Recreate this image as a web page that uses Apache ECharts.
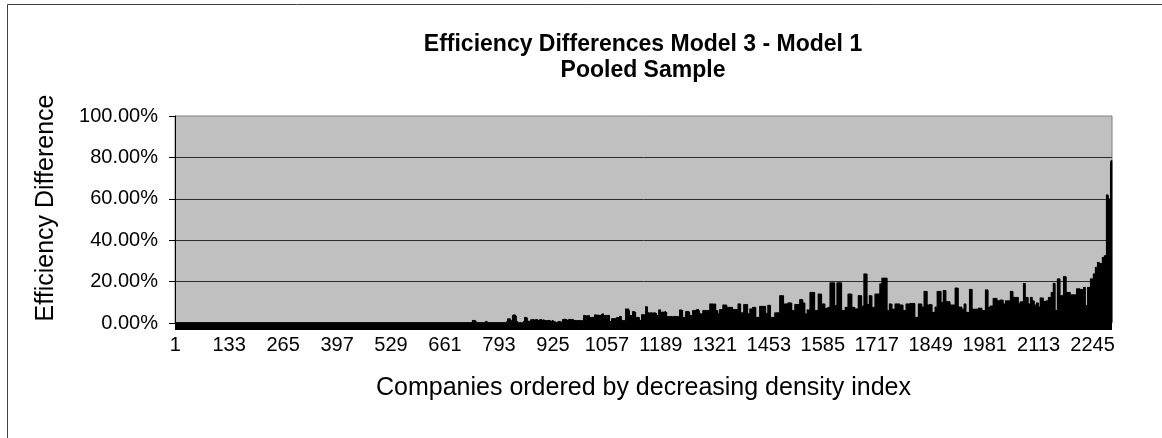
<!DOCTYPE html>
<html><head><meta charset="utf-8">
<script src="https://cdn.jsdelivr.net/npm/echarts@6/dist/echarts.min.js"></script>
<style>html,body{margin:0;padding:0;background:#fff}#c{width:1162px;height:438px}</style>
</head><body><div id="c"></div>
<script>
const titleLines = ['Efficiency Differences Model 3 - Model 1', 'Pooled Sample'];
const yAxisTitle = 'Efficiency Difference';
const xAxisTitle = 'Companies ordered by decreasing density index';
const yTickValues = [0, 20, 40, 60, 80, 100];
const xTickLabels = ['1','133','265','397','529','661','793','925','1057','1189','1321','1453','1585','1717','1849','1981','2113','2245'];
// efficiency difference per company, in percent
const effDiffPct = [
0,0,0,0,0,0,0,0,0,0,0,0,0,0,0,0,0,0,0,0,0,0,0,0,0,0,0,0,0,0,0,0,0,0,0,0,0,0,0,0,
0,0,0,0,0,0,0,0,0,0,0,0,0,0,0,0,0,0,0,0,0,0,0,0,0,0,0,0,0,0,0,0,0,0,0,0,0,0,0,0,
0,0,0,0,0,0,0,0,0,0,0,0,0,0,0,0,0,0,0,0,0,0,0,0,0,0,0,0,0,0,0,0,0,0,0,0,0,0,0,0,
0,0,0,0,0,0,0,0,0,0,0,0,0,0,0,0,0,0,0,0,0,0,0,0,0,0,0,0,0,0,0,0,0,0,0,0,0,0,0,0,
0,0,0,0,0,0,0,0,0,0,0,0,0,0,0,0,0,0,0,0,0,0,0,0,0,0,0,0,0,0,0,0,0,0,0,0,0,0,0,0,
0,0,0,0,0,0,0,0,0,0,0,0,0,0,0,0,0,0,0,0,0,0,0,0,0,0,0,0,0,0,0,0,0,0,0,0,0,0,0,0,
0,0,0,0,0,0,0,0,0,0,0,0,0,0,0,0,0,0,0,0,0,0,0,0,0,0,0,0,0,0,0,0,0,0,0,0,0,0,0,0,
0,0,0,0,0,0,0,0,0,0,0,0,0,0,0,0,0,0,0,0,0,0,0,0,0,0,0,0,0,0,0,0,0,0,0,0,0,0,0,0,
0,0,0,0,0,0,0,0,0,0,0,0,0,0,0,0,0,0,0,0,0,0,0,0,0,0,0,0,0,0,0,0,0,0,0,0,0,0,0,0,
0,0,0,0,0,0,0,0,0,0,0,0,0,0,0,0,0,0,0,0,0,0,0,0,0,0,0,0,0,0,0,0,0,0,0,0,0,0,0,0,
0,0,0,0,0,0,0,0,0,0,0,0,0,0,0,0,0,0,0,0,0,0,0,0,0,0,0,0,0,0,0,0,0,0,0,0,0,0,0,0,
0,0,0,0,0,0,0,0,0,0,0,0,0,0,0,0,0,0,0,0,0,0,0,0,0,0,0,0,0,0,0,0,0,0,0,0,0,0,0,0,
0,0,0,0,0,0,0,0,0,0,0,0,0,0,0,0,0,0,0,0,0,0,0,0,0,0,0,0,0,0,0,0,0,0,0,0,0,0,0,0,
0,0,0,0,0,0,0,0,0,0,0,0,0,0,0,0,0,0,0,0,0,0,0,0,0,0,0,0,0,0,0,0,0,0,0,0,0,0,0,0,
0,0,0,0,0,0,0,0,0,0,0,0,0,0,0,0,0,0,0,0,0,0,0,0,0,0,0,0,0,0,0,0,0,0,0,0,0,0,0,0,
0,0,0,0,0,0,0,0,0,0,0,0,0,0,0,0,0,0,0,0,0,0,0,0,0,0,0,0,0,0,0,0,0,0,0,0,0,0,0,0,
0,0,0,0,0,0,0,0,0,0,0,0,0,0,0,0,0,0,0,0,0,0,0,0,0,0,0,0,0,0,0,0,0,0,0,0,0,0,0,0,
0,0,0,0,0,0,0,0,0,0,0,0,0,0,0,0,0,0,0,0,0,0,0,0,0,0,0,0,0,0,0,0,0,0,0,0,0,0,0,0,
0,0,0,0,0,0.2,0.3,1.4,1.5,1.3,1.5,1.4,1.5,1.2,1.4,1.2,0.9,0.4,0.2,0.1,0,0,0,0,
0,0,0,0,0,0,0,0,0,0,0,0,0.1,0.4,0.6,0.9,1,1.1,1,0.8,0.3,0.2,0.1,0,0,
0,0,0,0,0,0,0,0,0,0,0.2,0.1,0,0,0,0,0,0,0,0,0.3,0.2,0,0,
0,0,0,0,0,0,0,0,0.2,0.1,0,0,0,0,0,0.3,0.5,0.4,0.9,1,2.1,2.3,2.2,2.3,2,
2.2,2.3,1.6,1.4,1.5,0.6,0.4,3.8,4,3.9,4.2,4.1,4.2,4,4.1,3.8,3.5,1.1,0.9,1,0.5,0.6,0.4,0.5,
0.5,0.4,0.5,0.5,0.3,0.3,0.2,0.3,0.5,0.4,1,0.9,1.1,3,2.9,3,2.8,3,2.8,2.6,1.2,1.1,1.2,1,0.9,
1,1.1,1.7,1.8,1.6,1.8,1.7,2,1.9,2,1.5,1.4,1.8,1.7,1.8,1.8,1.6,2,1.9,1.8,1.5,1.4,1.5,1.3,
1.8,1.7,1.8,2,1.9,1.8,1.6,1.7,1.5,1.4,1.8,1.7,1.6,1.5,1.4,1.5,1.3,1.4,1.2,1.1,1.5,1.4,1.5,1.4,1.3,
1.5,1.4,1.2,1.1,1.2,1,0.9,1.5,1.4,1.3,1,0.9,0.8,0.7,0.8,0.6,0.5,0.5,0.4,0.5,0.8,0.7,1,0.9,
1,0.9,1,0.8,0.7,0.7,0.6,0.7,2,1.9,2,1.8,2,2.2,2.1,2,1.9,2,1.8,1.7,1.5,1.4,1.5,2,1.9,
2,1.9,2,1.8,2,1.8,1.7,2,1.9,1.8,1.5,1.4,1.5,1.4,1.5,1.5,1.4,1.3,1.2,1.3,1.5,1.4,1.5,1.4,
1.5,1.4,1.5,1.2,1.1,1.5,1.3,1.4,0.5,0.6,3.9,3.7,3.8,3.9,3.8,3.8,3.6,3.7,3.5,3.4,3.8,3.7,3.8,3.9,3.7,
3,2.9,3,2.8,2.9,2.8,2.7,3,2.9,3,3,2.8,4.2,4,4.1,4.2,4.1,4,3.9,4,4.2,4,4,3.9,
3.9,3.8,3.9,3.9,3.7,4.5,4.3,4.4,4.8,4.6,3.9,3.8,3.9,3.9,3.7,3.8,3.7,3.8,3.9,3.8,4,3.9,4,3.9,3.8,
1,0.9,1,0.8,1.1,2.4,2.3,2.4,2.2,2.3,2.3,2.2,2.4,2.3,2.4,2.4,2.2,2.9,2.8,2.9,2.9,2.7,2.9,2.8,
3.5,3.4,3.5,3.5,3.3,1.5,1.4,1.5,1.5,1.3,1.3,1.2,1.3,1.5,1.4,7.1,6.9,7,7,6.8,7.1,6.9,7,6.5,6.2,
3.9,3.8,3.9,3.7,3.8,3.8,3.6,5.8,5.6,5.7,5.8,5.7,5.6,5.4,5.5,3,2.9,3,2.8,3,3,2.9,3,2.8,
1.5,1.4,1.5,1.5,1.3,4.3,4.1,4.2,4.3,4.2,4.2,4,4.1,4.3,4.2,8.2,8,8.1,8.2,7.9,5.2,5.1,5.2,5.2,5,
5,4.9,5.2,5,5.1,5.2,5.1,5,4.8,4.9,5.2,5.1,5.2,5,5.1,5,4.8,4,3.8,3.9,3,2.8,6.6,6.4,
6.6,6.5,6.6,5.5,5.3,5.5,5.4,5.5,5.6,5.5,5.5,5.3,5.4,5.8,5.7,5.5,5.4,5.5,3.4,3.3,3.4,3.2,3.3,3.2,3.1,
3.4,3.3,3.4,3.2,3.3,3.4,3.3,3.2,3.1,3.2,3.4,3.3,3.5,3.4,3.5,3.4,3.2,3.4,3.3,3.4,3.2,3.1,3.4,3.3,
6.6,6.4,6.5,6.6,6.5,6.5,6.3,6.4,3,2.9,3,2.8,3,3,2.9,5.8,5.6,5.7,5.8,5.7,5.8,5.6,5.7,5.6,5.4,
3.9,3.8,3.9,3.7,3.8,3.9,3.8,6.3,6.1,6.2,6.3,6.2,6.3,6.1,6.2,6.5,6.4,6.8,6.6,6.7,6.8,6.7,6.3,6.1,
4.7,4.6,4.7,4.7,4.5,4.7,4.6,4.7,6.3,6.2,6.3,6.1,6.2,6.3,6.2,6.3,6.1,6.3,6.2,6.1,6.3,6.2,6.3,6.3,6.1,
9.5,9.3,9.5,9.2,9.4,9.5,9.3,9.5,9.3,9.4,9.3,9.1,9.5,9.3,9.4,6.3,6.1,6.3,6.1,6.2,4.7,4.6,4.7,4.5,
6.8,6.6,6.7,6.8,6.7,6.8,6.6,6.7,9,8.8,9,8.8,8.9,9,8.9,9,8.7,8.9,7.9,7.8,7.9,7.7,7.8,7.9,7.7,
7.9,7.8,7.9,7.7,7.8,7.9,7.8,6.8,6.6,6.7,6.8,6.7,6.8,6.6,6.7,6.8,6.7,6.8,6.6,6.7,9.5,9.3,9.5,9.4,
9.5,9.3,9.4,5.2,5.1,5.2,5,5.1,5.2,5.1,9.2,9,9.1,9.2,9.1,9.2,9,9.1,9.2,9,4.7,4.6,4.7,4.7,4.5,
7.1,6.9,7.1,6.9,7,7.1,7,7.9,7.7,7.8,7.9,7.8,7.9,7.7,7.8,3,2.9,3,2.8,3,3,2.9,3,2.8,
8.4,8.2,8.3,8.4,8.3,8.4,8.2,8.3,8.4,8.3,8.4,8.2,8.3,8.4,8.2,5,4.9,5,5,4.8,8.9,8.7,8.8,8.9,8.8,
8.9,8.7,3,2.9,3,3,2.8,3,2.9,3,3,2.8,5.2,5,5.1,5.2,5.1,5.2,5,5.1,5.2,5.1,5.2,5,
13.5,13.2,13.4,13.5,13.3,13.5,13.2,13.4,13.5,13.1,9.5,9.3,9.4,9.5,9.4,9.5,9.3,9.4,9.5,9.3,10,9.8,9.9,10,9.8,
10,9.8,10,9.7,9.9,6.3,6.1,6.3,6.1,6.2,6.3,6.2,9.2,9,9.1,9.2,9.1,9.2,9,9.1,9.2,9.1,9.2,9,
11.6,11.4,11.5,11.6,11.5,11.6,11.3,11.5,10,9.8,10,9.7,9.9,4.7,4.6,4.7,4.5,4.6,6.6,6.5,6.6,6.4,6.5,6.6,6.4,
15.1,14.9,15.1,14.8,15,15.1,14.9,15.1,14.8,15,15.1,14.9,6.3,6.1,6.2,6.3,6.2,6.3,6.1,6.2,14.3,14.1,14.3,14.2,
14.3,14.1,14.2,14.3,14.1,9.5,9.3,9.4,9.5,9.4,9.5,9.3,9.4,7.4,7.3,7.4,7.2,7.3,7.4,7.3,7.9,7.7,7.8,7.9,7.7,
19.7,19.5,19.7,19.4,19.6,19.7,19.5,19.7,19.4,19.6,19.7,19.5,8.7,8.5,8.6,8.7,8.6,19.7,19.5,19.6,19.7,19.5,19.7,19.6,
19.7,19.5,19.6,19.7,19.4,6.3,6.1,6.2,6.3,6.2,6.3,6.1,6.2,7.9,7.8,7.9,7.7,7.8,7.9,7.8,14.3,14.1,14.2,14.3,14.1,
14.3,14.1,14.3,14.1,14.2,7.9,7.8,7.9,7.7,7.8,7.9,7.8,7.1,6.9,7,7.1,7,7.1,6.9,7,13.5,13.3,13.5,13.4,
13.5,13.3,13.4,13.5,13.3,8.5,8.3,8.4,8.5,8.4,24,23.7,23.9,24,23.8,24,23.7,23.9,9.3,9.1,9.3,9.1,9.2,13.5,13.3,
13.5,13.3,13.5,13.2,13.4,7.9,7.8,7.9,7.7,7.8,7.9,7.8,14.3,14.1,14.2,14.3,14.2,14.3,14.1,14.2,14.3,14.2,14.3,14.1,
19.2,19,19.1,19.2,19,22,21.7,21.9,22,21.8,22,21.7,21.9,22,21.8,22,21.7,21.9,6.3,6.2,6.3,6.1,6.2,9.5,9.3,
9.5,9.3,9.5,9.2,9.4,7,6.9,7,6.8,6.9,7,6.9,9.5,9.3,9.4,9.5,9.4,9.5,9.3,9.4,9.5,9.4,9.5,9.3,
9,8.8,8.9,9,8.9,9,8.8,8.9,6.3,6.2,6.3,6.1,6.2,6.3,6.2,9.5,9.3,9.4,9.5,9.4,9.5,9.3,9.4,9.5,9.3,
9.8,9.6,9.8,9.5,9.7,9.8,9.6,9.8,9.5,9.7,9.8,9.6,3,2.9,3,3,2.8,3,2.9,3,9.5,9.3,9.5,9.4,
9.5,9.3,9.4,9.5,9.3,8,7.8,7.9,8,7.9,15.6,15.3,15.5,15.6,15.4,15.6,15.3,15.5,9,8.9,9,8.8,8.9,9.2,9,
9.2,9,9.2,8.9,9.1,5.5,5.4,5.5,5.3,5.4,5.5,5.4,8,7.8,7.9,8,7.9,15.6,15.3,15.5,15.6,15.4,15.6,15.5,
15.6,15.4,15.5,10.3,10.1,10.3,10.1,10.2,16,15.8,16,15.7,15.9,16,15.8,10.6,10.4,10.5,10.6,10.5,10.6,10.4,10.5,10.6,10.4,
9,8.8,9,8.7,8.9,9,8.8,9,8.7,8.9,9,8.8,17.2,16.9,17.1,17.2,17,17.2,16.9,17.1,8,7.8,8,7.9,
8,7.8,7.9,8,7.9,7,6.8,6.9,7,6.9,9.5,9.3,9.4,9.5,9.3,5.5,5.3,5.4,5.5,5.4,5.5,5.3,5.4,16.6,16.4,
16.6,16.4,16.6,16.3,16.5,7,6.9,7,6.8,6.9,7,6.9,7,6.8,6.9,7,6.9,7,6.8,6.9,7.5,7.3,7.5,7.4,
7.5,7.3,7.4,7.5,7.4,6.3,6.1,6.2,6.3,6.2,6.3,6.1,6.2,16.3,16.1,16.3,16,16.2,16.3,16.1,7.9,7.7,7.8,7.9,7.8,
8.5,8.3,8.5,8.2,8.4,8.5,8.3,12.2,12,12.1,12.2,12.1,12.2,11.9,12.1,12.2,12,11,10.8,10.9,11,10.9,11,10.8,
11.4,11.2,11.3,11.4,11.3,11.4,11.1,11.3,9.5,9.3,9.5,9.2,9.4,11,10.8,11,10.7,10.9,11,10.9,11,10.8,10.9,11,10.8,
15.6,15.4,15.6,15.3,15.5,15.6,15.4,12.7,12.5,12.6,12.7,12.6,12.7,12.4,12.6,12.7,12.5,12.7,12.5,12.6,9.5,9.3,9.5,9.4,
10.5,10.3,10.4,10.5,10.4,10.5,10.2,10.4,19.5,19.3,19.5,19.2,19.4,12.7,12.5,12.7,12.4,12.6,12.7,12.5,9.5,9.3,9.4,9.5,9.3,
12.7,12.5,12.7,12.4,12.6,11,10.8,11,10.7,10.9,9,8.8,9,8.7,8.9,10,9.8,10,9.7,9.9,8,7.8,8,7.9,
12.4,12.2,12.3,12.4,12.3,12.4,12.1,12.3,10.8,10.6,10.8,10.5,10.7,10.8,10.6,11,10.8,10.9,11,10.9,12.7,12.5,12.6,12.7,12.5,
12.7,12.5,15.1,14.8,15,15.1,14.9,19.5,19.2,19.4,19.5,19.3,6.3,6.1,6.2,6.3,6.2,21.6,21.3,21.5,21.6,21.4,21.6,21.5,
13.5,13.3,13.4,13.5,13.3,13.5,13.2,13.4,22.7,22.5,22.7,22.4,22.6,22.7,22.5,15.1,14.9,15,15.1,15,15.1,14.8,15,15.1,14.9,
13.9,13.7,13.9,13.6,13.8,13.9,13.7,13.9,13.6,13.8,13.9,13.7,13.9,13.6,13.8,16.8,16.6,16.8,16.5,16.7,16.8,16.6,16.8,16.7,
16.4,16.2,16.3,16.4,16.3,16.4,16.1,16.3,17.5,17.3,17.5,17.2,17.4,8.7,8.5,8.7,8.4,8.6,17.5,17.3,17.5,17.2,17.4,17.5,17.3,
21.6,21.4,21.6,21.3,21.5,21.6,21.4,24,23.7,23.9,24,23.8,27.2,26.9,27.1,27.2,27,29.6,29.3,29.5,29.6,29.4,29,28.8,
29,28.8,28.9,29,28.7,32,31.7,31.9,32,31.8,32.8,32.5,32.7,32.8,32.6,62.2,61.8,62,62.2,61.9,60.2,59.9,60,60.2,59.8,
78.1,78.5,78.7,78.7
];
const companies = effDiffPct.map((_, i) => String(i + 1));

const FONT = '"Liberation Sans", Arial, sans-serif';
const chart = echarts.init(document.getElementById('c'), null, { renderer: 'canvas' });
chart.setOption({
  animation: false,
  backgroundColor: '#ffffff',
  textStyle: { fontFamily: FONT, color: '#000' },
  graphic: [{
    type: 'rect', silent: true, z: -10,
    shape: { x: 7.5, y: 4.5, width: 1200, height: 500 },
    style: { fill: 'none', stroke: '#404040', lineWidth: 1 }
  }, {
    type: 'text', silent: true,
    x: 46, y: 208, rotation: Math.PI / 2,
    style: { text: yAxisTitle, fontFamily: FONT, fontSize: 25, fill: '#000', align: 'center', verticalAlign: 'middle' }
  }],
  title: {
    text: titleLines.join('\n'),
    left: 643, top: 32, padding: 0, textAlign: 'center',
    textStyle: { fontFamily: FONT, fontSize: 23, fontWeight: 'bold', color: '#000', lineHeight: 26 }
  },
  grid: {
    left: 175, right: 50, top: 116, bottom: 115,
    show: true, backgroundColor: '#c0c0c0', borderColor: '#808080', borderWidth: 1
  },
  xAxis: {
    type: 'category', data: companies, boundaryGap: true,
    offset: 3.5,
    name: xAxisTitle, nameLocation: 'middle', nameGap: 49,
    nameTextStyle: { fontFamily: FONT, fontSize: 25, color: '#000' },
    axisLine: { show: true, onZero: false, lineStyle: { color: '#000', width: 7, cap: 'butt' } },
    axisTick: { show: false },
    axisLabel: {
      interval: (idx, val) => xTickLabels.includes(val),
      fontFamily: FONT, fontSize: 20, color: '#000', margin: 9, hideOverlap: false
    },
    splitLine: { show: false }
  },
  yAxis: {
    type: 'value', min: yTickValues[0], max: yTickValues[yTickValues.length - 1], interval: 20,
    axisLine: { show: true, lineStyle: { color: '#000', width: 1 } },
    axisTick: { show: true, inside: false, length: 6, lineStyle: { color: '#000' } },
    axisLabel: { formatter: v => v.toFixed(2) + '%', fontFamily: FONT, fontSize: 20, color: '#000', margin: 17 },
    splitLine: { show: true, showMinLine: false, showMaxLine: false, lineStyle: { color: '#2b2b2b', width: 1 } }
  },
  series: [{
    type: 'bar', data: effDiffPct, barCategoryGap: '0%', large: false, silent: true,
    itemStyle: { color: '#000', borderColor: '#000', borderWidth: 0.8 }
  }]
});
</script></body></html>
